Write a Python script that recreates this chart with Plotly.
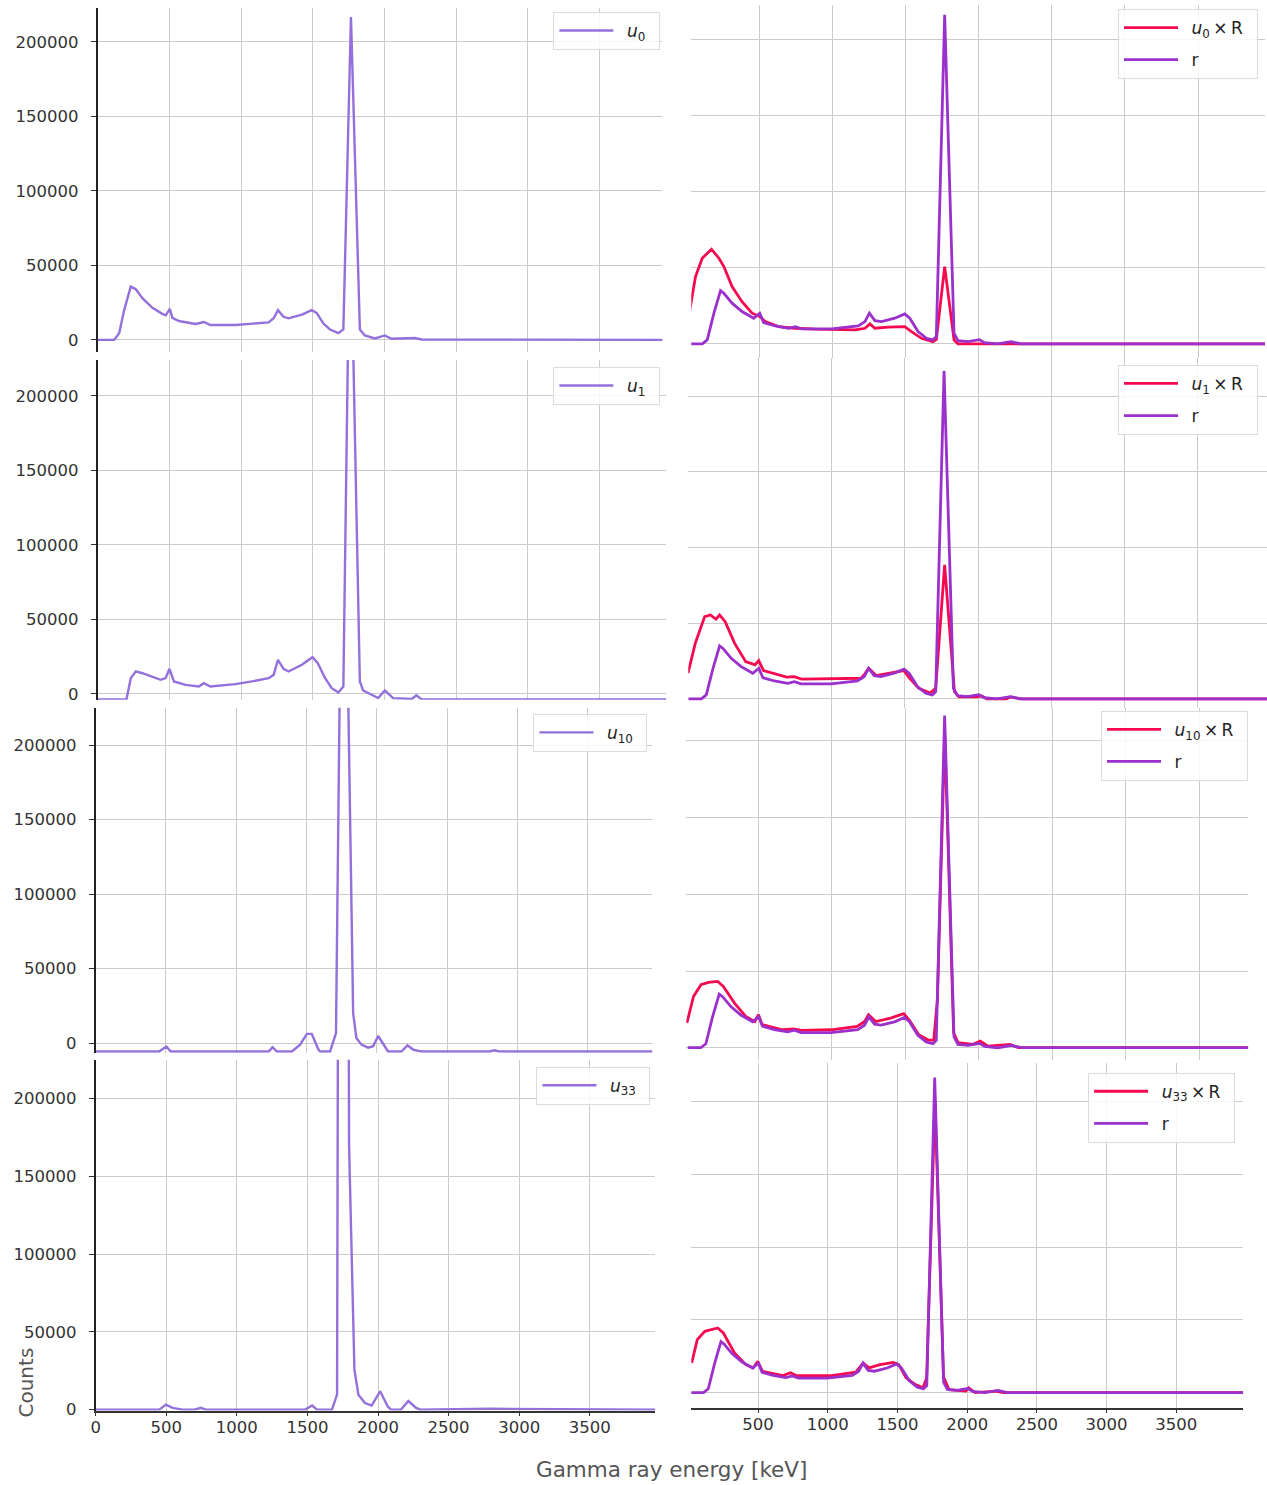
import plotly.graph_objects as go

# ---------------- data: gamma-ray spectra (energy in keV, counts) ----------------
# singular vectors u_i
u0_energy = [0, 116, 150, 185, 231, 266, 312, 382, 451, 475, 503, 521, 567, 683, 741, 786, 960,
             1192, 1227, 1257, 1296, 1331, 1424, 1493, 1528, 1574, 1620, 1678, 1713, 1766, 1828,
             1863, 1933, 2002, 2049, 2210, 2260, 2800, 3940]
u0_counts = [0, 0, 4500, 20000, 35800, 34000, 28000, 21500, 17500, 16500, 20800, 14800, 12700, 10700,
             12000, 10000, 10000, 11800, 14500, 20000, 15500, 14500, 17000, 20000, 18000, 11000, 7000,
             4500, 7000, 216800, 7000, 3000, 1000, 3000, 800, 1300, 300, 300, 0]

u1_energy = [0, 201, 231, 266, 312, 382, 440, 474, 501, 532, 613, 706, 740, 786, 960, 1076, 1192,
             1227, 1257, 1296, 1331, 1424, 1498, 1535, 1586, 1632, 1678, 1713, 1745, 1766, 1782,
             1828, 1851, 1886, 1956, 2002, 2060, 2190, 2222, 2260, 3965]
u1_counts = [-3800, -3800, 10500, 15000, 13800, 11600, 9400, 10500, 16800, 8300, 6000, 4900, 7100,
             4900, 6500, 8300, 10500, 12700, 22800, 16800, 15000, 19500, 24600, 20600, 10500, 3800,
             900, 4900, 230000, 380000, 230000, 8300, 2200, 500, -2900, 2200, -2900, -3500, -1000,
             -3800, -3800]

u10_energy = [0, 451, 503, 535, 1230, 1258, 1289, 1395, 1454, 1502, 1537, 1584, 1596, 1667, 1709,
              1740, 1766, 1788, 1831, 1854, 1890, 1937, 1973, 2009, 2044, 2079, 2174, 2217, 2257,
              2315, 2800, 2835, 2870, 3960]
u10_counts = [-5600, -5600, -2300, -5600, -5600, -2700, -5600, -5600, -1000, 6200, 6200, -4300,
              -5600, -5600, 6700, 280000, 500000, 280000, 20000, 3500, -1000, -3000, -2000, 4800, 0,
              -5600, -5600, -1500, -4300, -5600, -5600, -4800, -5600, -5600]

u33_energy = [0, 451, 498, 545, 616, 700, 745, 780, 1485, 1533, 1568, 1674, 1710, 1733, 1766, 1795,
              1833, 1861, 1908, 1926, 1955, 2015, 2069, 2092, 2163, 2215, 2270, 2300, 2800, 3965]
u33_counts = [0, 0, 3200, 1100, 0, 0, 1100, 0, 0, 2600, 0, 0, 9600, 900000, 1200000, 170000, 25700,
              9600, 4200, 3700, 2600, 11800, 2000, 0, 0, 5500, 1100, 0, 500, 0]

# measured spectrum r
r_energy = [20, 109, 143, 189, 234, 257, 313, 381, 461, 502, 529, 608, 700, 745, 790, 995, 1176,
            1222, 1252, 1290, 1335, 1426, 1494, 1528, 1585, 1642, 1687, 1710, 1767, 1831, 1858,
            1926, 2005, 2039, 2129, 2221, 2289, 3980]
r_counts = [0, 0, 2600, 20200, 35000, 33300, 26800, 21300, 16900, 20200, 14000, 11800, 10300, 11400,
            9900, 9900, 11800, 14700, 20200, 15300, 14700, 16900, 19700, 16900, 8100, 3700, 2600,
            4800, 216600, 7000, 2200, 1500, 2800, 800, 0, 1500, 0, 0]

# reconstructions u_i x R
u0R_energy = [20, 63, 109, 172, 223, 257, 313, 381, 450, 502, 540, 631, 745, 881, 1154, 1222, 1256,
              1290, 1381, 1494, 1540, 1608, 1687, 1710, 1767, 1831, 1858, 3980]
u0R_counts = [20000, 44300, 56400, 62300, 56400, 50900, 37700, 27800, 20200, 18000, 14700, 11400,
              10300, 9700, 9200, 10300, 13200, 10300, 11000, 11400, 8100, 3700, 1500, 3000, 50900,
              2600, 0, 0]

u1R_energy = [18, 68, 132, 170, 209, 234, 272, 336, 412, 476, 501, 534, 692, 743, 794, 1201, 1226,
              1252, 1303, 1404, 1493, 1532, 1595, 1671, 1710, 1771, 1838, 1869, 1996, 2021, 2059,
              2194, 2219, 2290, 3980]
u1R_counts = [17000, 36800, 54300, 55400, 52600, 55400, 51000, 36800, 24600, 22400, 25300, 18700,
              14300, 14700, 13000, 13600, 16500, 20300, 15400, 17400, 18700, 13600, 7000, 3800, 6900,
              88500, 4800, 1300, 1300, 2000, 0, 0, 1300, 0, 0]

u10R_energy = [14, 59, 110, 161, 224, 262, 338, 414, 476, 501, 526, 665, 741, 792, 995, 1172, 1223,
               1249, 1299, 1400, 1489, 1528, 1591, 1655, 1693, 1718, 1768, 1828, 1858, 1959, 2010,
               2061, 2213, 2270, 3980]
u10R_counts = [16100, 33400, 41100, 42600, 43200, 40000, 29100, 20400, 17100, 21500, 15000, 11700,
               12200, 11300, 11700, 13900, 17100, 21500, 17100, 19300, 22200, 17800, 8500, 5000, 5000,
               31300, 205000, 9800, 3300, 2200, 4300, 1000, 2200, 0, 0]

u33R_energy = [24, 64, 118, 211, 251, 331, 412, 466, 498, 532, 679, 733, 773, 1027, 1201, 1254, 1295,
               1375, 1469, 1509, 1562, 1629, 1683, 1709, 1769, 1830, 1870, 1990, 2011, 2057, 2204,
               2260, 3980]
u33R_counts = [20400, 36400, 42100, 44400, 41000, 27300, 19200, 17000, 21500, 14600, 11700, 13700,
               11700, 11700, 14000, 20400, 17000, 19200, 20800, 19200, 10100, 5500, 3300, 10100,
               200000, 10800, 2000, 1000, 3300, 0, 1000, 0, 0]

# ---------------- layout ----------------
W, H = 1267, 1485
Y_SCALE = 1.0058          # vertical page compensation
U_COLOR = "#9370DB"
R_COLOR = "#F50A50"
RR_COLOR = "#9B30CC"
TICK_FONT = dict(family="DejaVu Sans", size=16.5, color="#333333")
LEGEND_FONT = dict(family="DejaVu Sans", size=17, color="#222222")
GRID = "#cbcbcb"


def px_x(v):
    return v / W


def px_y(v):
    return 1 - v * Y_SCALE / H


# panel boxes (left, right, top, bottom) in pixels plus axis ranges
panels = [
    dict(box=(93, 660, 8, 352), xr=(0, 3937), yr=(-8050, 222800), side="L", bottom=False),
    dict(box=(689, 1265, 5, 358), xr=(34, 3958), yr=(-9200, 223000), side="R", bottom=False),
    dict(box=(93, 664, 360, 700), xr=(0, 3965), yr=(-4030, 224200), side="L", bottom=False),
    dict(box=(686, 1267, 358, 708), xr=(20, 3973), yr=(-5900, 225200), side="R", bottom=False),
    dict(box=(91, 650, 708, 1053), xr=(0, 3959), yr=(-6400, 225000), side="L", bottom=False),
    dict(box=(684, 1248, 708, 1060), xr=(10, 3831), yr=(-7800, 221600), side="R", bottom=False),
    dict(box=(91, 653, 1060, 1411), xr=(0, 3965), yr=(-640, 225100), side="L", bottom=True),
    dict(box=(689, 1243, 1063, 1408), xr=(21, 3979), yr=(-10300, 226800), side="R", bottom=True),
]

# legend anchors (right, top) in pixels
legend_pos = [(658, 12), (1258, 9), (658, 367), (1258, 365),
              (645, 714), (1248, 711), (648, 1067), (1235, 1073)]

fig = go.Figure()
layout = dict(width=W, height=H, margin=dict(l=0, r=0, t=0, b=0),
              paper_bgcolor="white", plot_bgcolor="white", showlegend=True)

for i, p in enumerate(panels, start=1):
    l, r, t, b = p["box"]
    sfx = "" if i == 1 else str(i)
    left = p["side"] == "L"
    layout["xaxis" + sfx] = dict(
        domain=[px_x(l), px_x(r)], anchor="y" + sfx, range=list(p["xr"]),
        tick0=0, dtick=500, showgrid=True, gridcolor=GRID, gridwidth=1.4, zeroline=False,
        showline=p["bottom"], linecolor="#333333", linewidth=1.5,
        ticks="outside" if p["bottom"] else "", ticklen=4, tickcolor="#333333",
        showticklabels=p["bottom"], tickfont=TICK_FONT, ticklabelstandoff=-3, fixedrange=True)
    layout["yaxis" + sfx] = dict(
        domain=[px_y(b), px_y(t)], anchor="x" + sfx, range=list(p["yr"]),
        tick0=0, dtick=50000, tickformat="d", showgrid=True, gridcolor=GRID, gridwidth=1.4,
        zeroline=False, showline=left, linecolor="#222222", linewidth=1.5,
        ticks="outside" if left else "", ticklen=5, tickcolor="#333333",
        showticklabels=left, tickfont=TICK_FONT, ticklabelstandoff=9, fixedrange=True)
    lx, ly = legend_pos[i - 1]
    layout["legend" + sfx] = dict(
        x=px_x(lx), y=px_y(ly), xanchor="right", yanchor="top", xref="paper", yref="paper",
        bgcolor="rgba(255,255,255,0.85)", bordercolor="#dcdcdc", borderwidth=1,
        font=LEGEND_FONT, itemwidth=54, tracegroupgap=7)


def add_line(idx, x, y, name, color, width):
    sfx = "" if idx == 1 else str(idx)
    fig.add_trace(go.Scatter(
        x=x, y=y, mode="lines", name=name, line=dict(color=color, width=width),
        xaxis="x" + sfx, yaxis="y" + sfx, legend="legend" + sfx,
        legendgroup=f"{name}-{idx}", hoverinfo="skip"))


singles = [(u0_energy, u0_counts, "0"), (u1_energy, u1_counts, "1"),
           (u10_energy, u10_counts, "10"), (u33_energy, u33_counts, "33")]
recons = [(u0R_energy, u0R_counts), (u1R_energy, u1R_counts),
          (u10R_energy, u10R_counts), (u33R_energy, u33R_counts)]

SP = "\u2002"
for row in range(4):
    ex, cy, k = singles[row]
    add_line(2 * row + 1, ex, cy, f"{SP}<i>u</i><sub>{k}</sub>{SP}", U_COLOR, 2.4)
    rx, ry = recons[row]
    add_line(2 * row + 2, rx, ry, f"{SP}<i>u</i><sub>{k}</sub>\u2009×\u2009R{SP}", R_COLOR, 2.8)
    add_line(2 * row + 2, r_energy, r_counts, f"{SP}r", RR_COLOR, 2.8)

layout["annotations"] = [
    dict(text="Gamma ray energy [keV]", x=px_x(669), y=px_y(1470), xref="paper", yref="paper",
         showarrow=False, xanchor="center", yanchor="middle",
         font=dict(family="DejaVu Sans", size=21.5, color="#555555")),
    dict(text="Counts", x=px_x(21), y=px_y(1383), xref="paper", yref="paper",
         showarrow=False, xanchor="center", yanchor="middle", textangle=-90,
         font=dict(family="DejaVu Sans", size=20, color="#555555")),
]

fig.update_layout(**layout)
fig.write_html("out.html")
